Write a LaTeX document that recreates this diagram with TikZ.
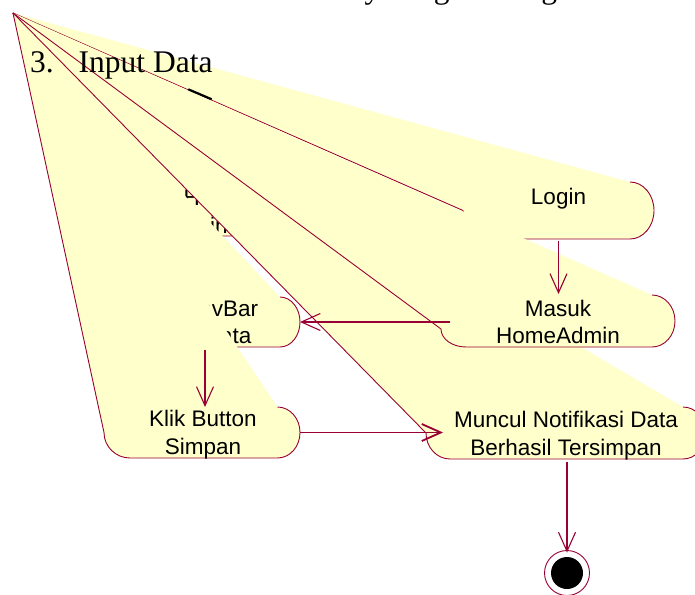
\documentclass[tikz,border=0pt]{standalone}
\usepackage{fontspec}
\setmainfont{Liberation Serif}
\newfontfamily\actfont{Liberation Sans}
\usetikzlibrary{arrows.meta}
\definecolor{actyellow}{RGB}{255,255,204}
\definecolor{actred}{RGB}{153,0,51}
\tikzset{
  actfill/.style={fill=actyellow},
  actline/.style={draw=actred, line width=0.9pt, line join=round},
  actbox/.style={inner sep=0pt, outer sep=0pt},
  acttext/.style={font=\actfont\fontsize{22.5}{27.5}\selectfont, anchor=base, inner sep=0pt},
  doctext/.style={font=\fontsize{31.5}{38}\selectfont, anchor=base west, inner sep=0pt},
  flow/.style={draw=actred, line width=1.1pt, -{Straight Barb[length=19pt,width=17pt]}},
}
% Activity whose top-left corner collapses into the common apex.
% #1 name, #2 left x, #3 right x, #4 top y, #5 bottom y,
% #6 y where the left side starts to bend, #7 left bend radius, #8 right end radius
\newcommand\activity[8]{%
  \pgfmathsetmacro\actMid{(#4+#5)/2}%
  \pgfmathsetmacro\actRy{(#5-#4)/2}%
  \pgfmathsetmacro\actAx{#3-#8}%
  \pgfmathsetmacro\actAkx{#3-#8+0.5523*#8}%
  \pgfmathsetmacro\actUp{\actMid-0.5523*\actRy}%
  \pgfmathsetmacro\actDn{\actMid+0.5523*\actRy}%
  \pgfmathsetmacro\actBx{#2+#7}%
  \pgfmathsetmacro\actBkx{#2+#7-0.5523*#7}%
  \pgfmathsetmacro\actLky{#6+0.5523*(#5-#6)}%
  \pgfmathsetmacro\actCx{(#2+#3)/2}%
  \pgfmathsetmacro\actW{#3-#2}%
  \pgfmathsetmacro\actH{#5-#4}%
  \fill[actfill] (apex) -- (\actAx,#4)
     .. controls (\actAkx,#4) and (#3,\actUp) .. (#3,\actMid)
     .. controls (#3,\actDn) and (\actAkx,#5) .. (\actAx,#5)
     -- (\actBx,#5) .. controls (\actBkx,#5) and (#2,\actLky) .. (#2,#6) -- cycle;
  \draw[actline] (apex) -- (#2,#6)
     .. controls (#2,\actLky) and (\actBkx,#5) .. (\actBx,#5)
     -- (\actAx,#5) .. controls (\actAkx,#5) and (#3,\actDn) .. (#3,\actMid)
     .. controls (#3,\actUp) and (\actAkx,#4) .. (\actAx,#4);
  \node[actbox, minimum width=\actW pt, minimum height=\actH pt] (#1) at (\actCx,\actMid) {};
}
\begin{document}
\begin{tikzpicture}[x=1pt, y=-1pt]
\useasboundingbox (0,0) rectangle (695,594);
\clip (0,0) rectangle (695,594);
\fill[white] (0,0) rectangle (695,594);

% heading line above, only its descenders remain on the page
\node[doctext] (heading) at (277,-1) {Activity Diagram Login};

\coordinate (apex) at (13,13);

% activities, back to front
\activity{login}{463}{654}{182}{239}{210.5}{24}{24}
\node[acttext] (login-t) at (558.5,204) {Login};

\activity{openpage}{100}{300}{182}{236}{209}{25}{25}
\node[acttext] (openpage-t1) at (200,205.5) {Buka Halaman};
\node[acttext] (openpage-t2) at (200,233) {Login};

\activity{navbar}{98}{300}{297}{347}{322}{20}{20}
\node[acttext] (navbar-t1) at (199.5,316.7) {Klik NavBar};
\node[acttext] (navbar-t2) at (199.5,343.3) {Input Data};

\activity{klik}{104}{300}{407}{458}{432.5}{26}{22.5}
\node[acttext] (klik-t1) at (203,426.7) {Klik Button};
\node[acttext] (klik-t2) at (203,454) {Simpan};

\activity{muncul}{426}{706}{407}{459}{433}{24}{23}
\node[acttext] (muncul-t1) at (566,427.7) {Muncul Notifikasi Data};
\node[acttext] (muncul-t2) at (566,455.7) {Berhasil Tersimpan};

\activity{masuk}{441}{675}{295}{347}{329}{25}{23}
\node[acttext] (masuk-t1) at (558,316) {Masuk};
\node[acttext] (masuk-t2) at (558,343) {HomeAdmin};

% final state
\node[circle, draw=actred, fill=white, line width=0.9pt, minimum size=45pt, inner sep=0pt] (endstate) at (567,573) {};
\node[circle, fill=black, minimum size=32pt, inner sep=0pt] (enddot) at (endstate) {};

% section heading
\node[doctext] (sec-num) at (30,72.7) {3.};
\node[doctext] (sec-title) at (78.5,72.7) {Input Data};
\draw[black, line width=2.2pt] (188.3,89.3) -- (211.7,99.3);

% transitions
\draw[flow, shorten <=2pt, shorten >=1pt] (login.south) -- (login.south |- masuk.north);
\draw[flow] ([xshift=9pt]masuk.west |- navbar.east) -- (navbar.east);
\draw[flow, shorten <=3pt] ([xshift=6pt]navbar.south) -- ([xshift=6pt]navbar.south |- klik.north);
\draw[flow, line width=1.8pt] (klik.east) -- ([xshift=17pt]klik.east -| muncul.west);
\draw[flow, shorten <=3pt, shorten >=-2.5pt] (muncul.south -| endstate) -- (endstate.north);
\end{tikzpicture}
\end{document}
